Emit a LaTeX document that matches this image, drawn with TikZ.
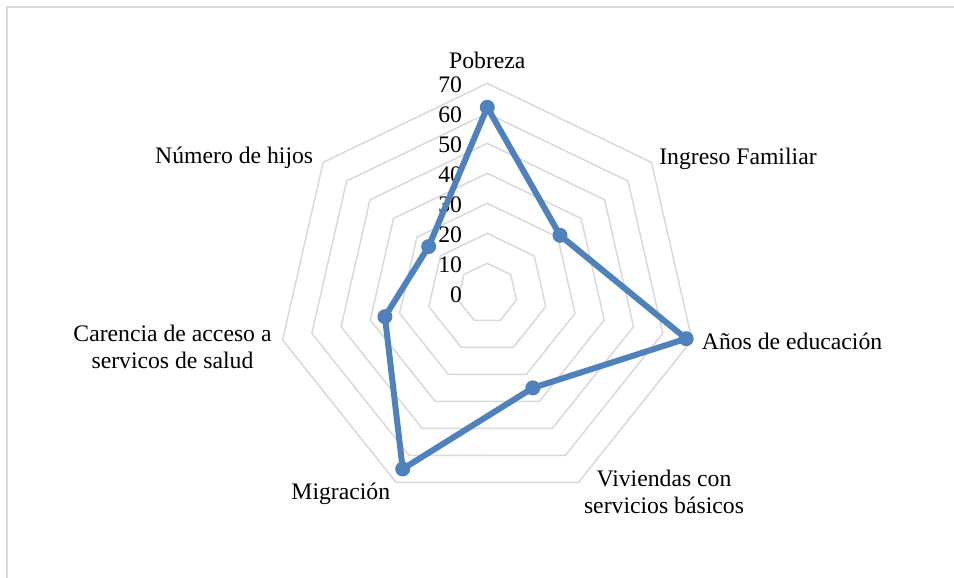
\documentclass[tikz,border=0pt]{standalone}
\usepackage{fontspec}
\setmainfont{Liberation Serif}
\definecolor{gridgray}{HTML}{D9D9D9}
\definecolor{serieblue}{HTML}{4F81BD}
\tikzset{
  ring/.style={draw=gridgray,line width=1.5pt,line join=round},
  axislabel/.style={inner sep=0pt,anchor=base,align=center,font=\fontsize{23.7}{26.6}\selectfont},
  ticklabel/.style={inner sep=0pt,anchor=east,font=\fontsize{23.7}{26.6}\selectfont},
  dot/.style={circle,fill=serieblue,inner sep=0pt,minimum size=15pt},
  serie/.style={draw=serieblue,line width=6pt,line join=round}
}
\begin{document}
\begin{tikzpicture}[x=1pt,y=1pt]
  \useasboundingbox (-487.3,-284.7) rectangle (466.7,293.3);
  % marco
  \draw[gridgray,line width=2pt] (-480.3,-284.7) -- (-480.3,286.3) -- (466.7,286.3);

  % anillos de la escala
  \foreach \r in {1,...,7}
    \draw[ring] (90:30*\r) \foreach \i in {1,...,6} { -- ({90-\i*360/7}:30*\r) } -- cycle;

  % escala 0..70
  \foreach \v in {0,10,...,70}
    \node[ticklabel] (t\v) at (-25,{3*\v-1.5}) {\v};

  % valores de la serie
  \foreach \val [count=\i from 0] in {62,31,68,35,65,35,25}
    \coordinate (v\i) at ({90-\i*360/7}:3*\val);
  \draw[serie] (v0) \foreach \i in {1,...,6} { -- (v\i) } -- cycle;
  \foreach \i in {0,...,6}
    \node[dot] (d\i) at (v\i) {};

  % ejes (base = linea de abajo)
  \node[axislabel] (pob) at (0,225) {Pobreza};
  \node[axislabel] (ing) at (250.7,129) {Ingreso Familiar};
  \node[axislabel,anchor=base west] (anos) at (214.4,-56.7) {Años de educación};
  \node[axislabel] (viv) at (176.7,-220) {Viviendas con\\servicios básicos};
  \node[axislabel] (mig) at (-146.5,-206.7) {Migración};
  \node[axislabel] (car) at (-314.8,-75) {Carencia de acceso a\\servicos de salud};
  \node[axislabel] (hij) at (-253.1,130) {Número de hijos};
\end{tikzpicture}
\end{document}
